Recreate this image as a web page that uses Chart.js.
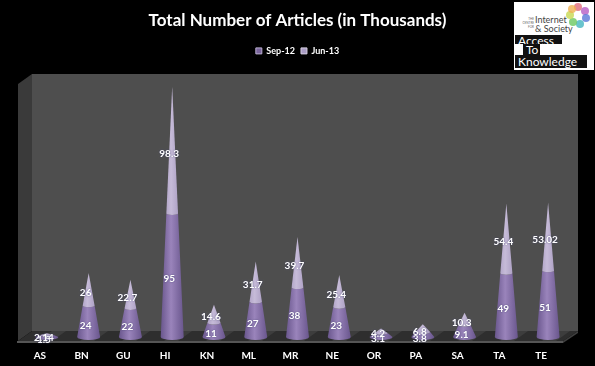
<!DOCTYPE html>
<html>
<head>
<meta charset="utf-8">
<script src="https://cdn.jsdelivr.net/npm/chart.js@4"></script>
<style>
    html, body { margin: 0; padding: 0; background: #000; }
    #wrap { position: relative; width: 595px; height: 366px; overflow: hidden; }
    canvas { display: block; }
    #logo { position: absolute; left: 514px; top: 2px; width: 80px; height: 68px; background: #fff; color: #111; font-family: Lato, sans-serif; }
    #logo .org { position: absolute; left: 21px; top: 13px; font-size: 9px; line-height: 9px; color: #444; }
    #logo .the { position: absolute; left: 0; top: 15px; font-size: 3px; line-height: 4px; text-align: right; width: 20px; color: #666; }
    #logo span.blk { position: absolute; background: #111; color: #fff; font-size: 12px; line-height: 11px; padding-left: 3px; box-sizing: border-box; }
    #logo i { position: absolute; width: 8px; height: 8px; border-radius: 50%; opacity: .8; }
</style>
</head>
<body>
<div id="wrap">
    <canvas id="chart" width="595" height="366"></canvas>
    <div id="logo">
        <div class="the">THE<br>CENTRE<br>FOR</div>
        <div class="org">Internet<br>&amp; Society</div>
        <i style="left:60px;top:1px;background:#e06a7a"></i>
        <i style="left:67px;top:5px;background:#b65cc4"></i>
        <i style="left:68px;top:12px;background:#5a78d8"></i>
        <i style="left:62px;top:18px;background:#45b5c0"></i>
        <i style="left:55px;top:16px;background:#6cc860"></i>
        <i style="left:52px;top:9px;background:#c8d850"></i>
        <i style="left:54px;top:3px;background:#f0b050"></i>
        <span class="blk" style="left:1px;top:33px;width:47px;height:9px">Access</span>
        <span class="blk" style="left:9px;top:42px;width:17px;height:11px">To</span>
        <span class="blk" style="left:1px;top:53px;width:72px;height:13px;line-height:13px">Knowledge</span>
    </div>
</div>
<script>
const categories = ['AS', 'BN', 'GU', 'HI', 'KN', 'ML', 'MR', 'NE', 'OR', 'PA', 'SA', 'TA', 'TE'];
const sep12 = [1.5, 24, 22, 95, 11, 27, 38, 23, 3.1, 3.8, 9.1, 49, 51];
const jun13 = [2.14, 26, 22.7, 98.3, 14.6, 31.7, 39.7, 25.4, 4.2, 6.8, 10.3, 54.4, 53.02];

const FONT = 'Lato, sans-serif';

// Fake 3D box behind the cones, like the old Excel look
const boxPlugin = {
    id: 'box',
    beforeDraw(chart) {
        const c = chart.ctx;
        c.save();
        // back wall
        c.fillStyle = '#4e4e4e';
        c.fillRect(32, 74, 546, 257);
        // side wall
        c.fillStyle = '#3a3a3a';
        c.beginPath();
        c.moveTo(32, 74); c.lineTo(18, 84); c.lineTo(18, 341); c.lineTo(32, 331);
        c.closePath(); c.fill();
        // floor
        c.fillStyle = '#2e2e2e';
        c.beginPath();
        c.moveTo(32, 331); c.lineTo(578, 331); c.lineTo(563, 341); c.lineTo(18, 341);
        c.closePath(); c.fill();
        // stripes on the floor
        c.fillStyle = '#3d3d3d';
        for (let x = 30; x < 560; x += 42) {
            c.beginPath();
            c.moveTo(x + 22, 331); c.lineTo(x + 36, 331); c.lineTo(x + 22, 341); c.lineTo(x + 8, 341);
            c.closePath(); c.fill();
        }
        // front edge
        c.fillStyle = '#555';
        c.fillRect(17, 341, 546, 2);
        c.fillStyle = '#3e3e3e';
        c.beginPath();
        c.moveTo(578, 331); c.lineTo(563, 341); c.lineTo(563, 343); c.lineTo(578, 333);
        c.closePath(); c.fill();
        c.restore();
    }
};

function coneGradient(c, x, hw, edge, mid) {
    const g = c.createLinearGradient(x - hw, 0, x + hw, 0);
    g.addColorStop(0, edge);
    g.addColorStop(0.45, mid);
    g.addColorStop(1, edge);
    return g;
}

function drawCone(c, x, baseY, midY, tipY, hw) {
    const ry = 3;
    const yBase = baseY - 1;
    const t = (midY - tipY) / (baseY - tipY);
    const mw = hw * t;
    const my = yBase - (baseY - midY);
    // lower part
    c.fillStyle = coneGradient(c, x, hw, '#69568d', '#9a84bb');
    c.beginPath();
    c.moveTo(x - hw, yBase);
    c.lineTo(x - mw, my);
    c.ellipse(x, my, mw, ry * t, 0, Math.PI, 0, true);
    c.lineTo(x + hw, yBase);
    c.ellipse(x, yBase, hw, ry, 0, 0, Math.PI, false);
    c.closePath();
    c.fill();
    // upper part
    c.fillStyle = coneGradient(c, x, hw, '#9d8fb7', '#c6bbd8');
    c.beginPath();
    c.moveTo(x - mw, my);
    c.lineTo(x, tipY);
    c.lineTo(x + mw, my);
    c.ellipse(x, my, mw, ry * t, 0, 0, Math.PI, false);
    c.closePath();
    c.fill();
}

// Cones and value labels, positioned from the bar elements
const conePlugin = {
    id: 'cones',
    beforeDatasetDraw() {
        return false;
    },
    afterDatasetsDraw(chart) {
        const c = chart.ctx;
        const low = chart.getDatasetMeta(0).data;
        const high = chart.getDatasetMeta(1).data;
        c.save();
        low.forEach((el, i) => {
            drawCone(c, el.x, el.base, el.y, high[i].y, 11.5);
        });
        c.font = 'bold 10px ' + FONT;
        c.fillStyle = '#fff';
        c.textAlign = 'center';
        c.textBaseline = 'middle';
        // slight halo so the labels stay readable on the pale cone tops
        c.shadowColor = 'rgba(60, 60, 110, 0.8)';
        c.shadowBlur = 2;
        low.forEach((el, i) => {
            const top = high[i];
            c.fillText(String(sep12[i]), el.x - 3, (el.base + el.y) / 2 + 3);
            c.fillText(String(jun13[i]), el.x - 3, (el.y + top.y) / 2 + 3);
        });
        c.restore();
    }
};

new Chart(document.getElementById('chart').getContext('2d'), {
    type: 'bar',
    data: {
        labels: categories,
        datasets: [
            { label: 'Sep-12', data: sep12, backgroundColor: '#7a659c', borderColor: '#b9aed0', borderWidth: 1 },
            { label: 'Jun-13', data: jun13, backgroundColor: '#a99cc4', borderColor: '#d5cfe2', borderWidth: 1 }
        ]
    },
    options: {
        responsive: false,
        animation: false,
        layout: { padding: { left: 26, right: 26, top: 0, bottom: 0 } },
        plugins: {
            tooltip: { enabled: false },
            title: {
                display: true,
                text: 'Total Number of Articles (in Thousands)',
                color: '#fff',
                font: { family: FONT, size: 17, weight: 'bold' },
                padding: { top: 10, bottom: 10 }
            },
            legend: {
                position: 'top',
                onClick: null,
                labels: {
                    color: '#fff',
                    font: { family: FONT, size: 9, weight: 'bold' },
                    boxWidth: 6,
                    boxHeight: 6,
                    padding: 6
                }
            }
        },
        scales: {
            x: {
                stacked: true,
                grid: { display: false },
                border: { display: false },
                afterFit: scale => { scale.height = 28; },
                ticks: { color: '#fff', font: { family: FONT, size: 10, weight: 'bold' }, padding: 4, labelOffset: -7, maxRotation: 0 }
            },
            y: {
                stacked: true,
                display: false,
                min: 0,
                max: 209.5
            }
        }
    },
    plugins: [boxPlugin, conePlugin]
});
</script>
</body>
</html>
